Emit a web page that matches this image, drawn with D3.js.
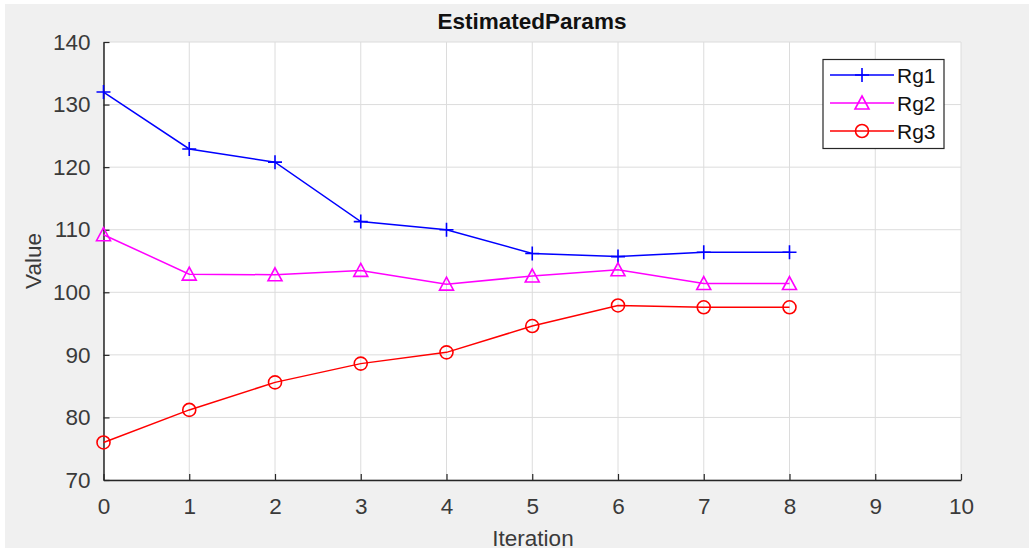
<!DOCTYPE html>
<meta charset="utf-8">
<script src="https://d3js.org/d3.v7.min.js"></script>
<style>
  body { margin: 0; background: #fff; }
  text { font-family: "Liberation Sans", Arial, sans-serif; fill: #262626; }
</style>
<svg id="chart" width="1029" height="550"></svg>
<script>
// data
const iterations = [0, 1, 2, 3, 4, 5, 6, 7, 8];
const rg1 = [132.0, 122.9, 120.8, 111.3, 110.0, 106.2, 105.7, 106.4, 106.4];
const rg2 = [109.2, 102.9, 102.8, 103.5, 101.3, 102.6, 103.6, 101.4, 101.4];
const rg3 = [76.0, 81.2, 85.6, 88.6, 90.4, 94.6, 97.9, 97.6, 97.6];
const xTicks = [0, 1, 2, 3, 4, 5, 6, 7, 8, 9, 10];
const yTicks = [70, 80, 90, 100, 110, 120, 130, 140];

const series = [
  { name: "Rg1", values: rg1, color: "#0000ff", marker: "plus" },
  { name: "Rg2", values: rg2, color: "#ff00ff", marker: "triangle" },
  { name: "Rg3", values: rg3, color: "#ff0000", marker: "circle" }
];

const svg = d3.select("#chart");
const axLeft = 103.5, axRight = 961, axTop = 42, axBottom = 480;

// figure background
svg.append("rect").attr("x", 5).attr("y", 4).attr("width", 1024).attr("height", 544).attr("fill", "#f0f0f0");
svg.append("rect").attr("x", axLeft).attr("y", axTop).attr("width", axRight - axLeft).attr("height", axBottom - axTop).attr("fill", "#fff");

const x = d3.scaleLinear().domain([0, 10]).range([axLeft, axRight]);
const y = d3.scaleLinear().domain([70, 140]).range([axBottom, axTop]);

// grid
const grid = svg.append("g").attr("stroke", "#dcdcdc").attr("stroke-width", 1);
grid.selectAll(".gx").data(xTicks).enter().append("line")
  .attr("x1", d => x(d)).attr("x2", d => x(d)).attr("y1", axTop).attr("y2", axBottom);
grid.selectAll(".gy").data(yTicks).enter().append("line")
  .attr("x1", axLeft).attr("x2", axRight).attr("y1", d => y(d)).attr("y2", d => y(d));

// axes
const xAxis = svg.append("g").attr("transform", `translate(0,${axBottom})`)
  .call(d3.axisBottom(x).tickValues(xTicks).tickSize(-6).tickPadding(16).tickSizeOuter(0));
const yAxis = svg.append("g").attr("transform", `translate(${axLeft},0)`)
  .call(d3.axisLeft(y).tickValues(yTicks).tickSize(-6).tickPadding(13).tickSizeOuter(0));
[xAxis, yAxis].forEach(a => {
  a.select(".domain").attr("stroke", "#262626").attr("stroke-width", 1.5);
  a.selectAll(".tick line").attr("stroke", "#262626").attr("stroke-width", 1.2);
  a.selectAll(".tick text").style("font-size", "22.5px").style("fill", "#3a3a3a");
});
xAxis.selectAll(".tick text").attr("dy", "0.78em");

// labels
svg.append("text").attr("x", 532).attr("y", 29).attr("text-anchor", "middle")
  .style("font-size", "22.5px").attr("font-weight", "bold").style("fill", "#111").text("EstimatedParams");
svg.append("text").attr("x", 533).attr("y", 546).attr("text-anchor", "middle")
  .style("font-size", "22.5px").style("fill", "#3a3a3a").text("Iteration");
svg.append("text").attr("transform", "translate(41,261) rotate(-90)").attr("text-anchor", "middle")
  .style("font-size", "22.5px").style("fill", "#3a3a3a").text("Value");

function drawMarker(g, type, cx, cy, color) {
  if (type === "plus") {
    g.append("path").attr("d", `M${cx - 7},${cy}H${cx + 7}M${cx},${cy - 7}V${cy + 7}`)
      .attr("stroke", color).attr("stroke-width", 1.6).attr("fill", "none");
  } else if (type === "triangle") {
    g.append("path").attr("d", `M${cx},${cy - 7}L${cx + 7},${cy + 6}L${cx - 7},${cy + 6}Z`)
      .attr("stroke", color).attr("stroke-width", 1.6).attr("fill", "none");
  } else {
    g.append("circle").attr("cx", cx).attr("cy", cy).attr("r", 6.5)
      .attr("stroke", color).attr("stroke-width", 1.6).attr("fill", "none");
  }
}

const line = d3.line().x((d, i) => x(iterations[i])).y(d => y(d));
series.forEach(s => {
  const g = svg.append("g");
  g.append("path").datum(s.values).attr("d", line)
    .attr("fill", "none").attr("stroke", s.color).attr("stroke-width", 1.5);
  s.values.forEach((v, i) => drawMarker(g, s.marker, x(iterations[i]), y(v), s.color));
});

// legend
const lg = svg.append("g");
lg.append("rect").attr("x", 823).attr("y", 59.5).attr("width", 121).attr("height", 89)
  .attr("fill", "#fff").attr("stroke", "#262626").attr("stroke-width", 1.2);
series.forEach((s, i) => {
  const ly = 75 + i * 28;
  lg.append("line").attr("x1", 830).attr("x2", 894).attr("y1", ly).attr("y2", ly)
    .attr("stroke", s.color).attr("stroke-width", 1.5);
  drawMarker(lg, s.marker, 862, ly, s.color);
  lg.append("text").attr("x", 897).attr("y", ly + 8).style("font-size", "21px").style("fill", "#111").text(s.name);
});
</script>
